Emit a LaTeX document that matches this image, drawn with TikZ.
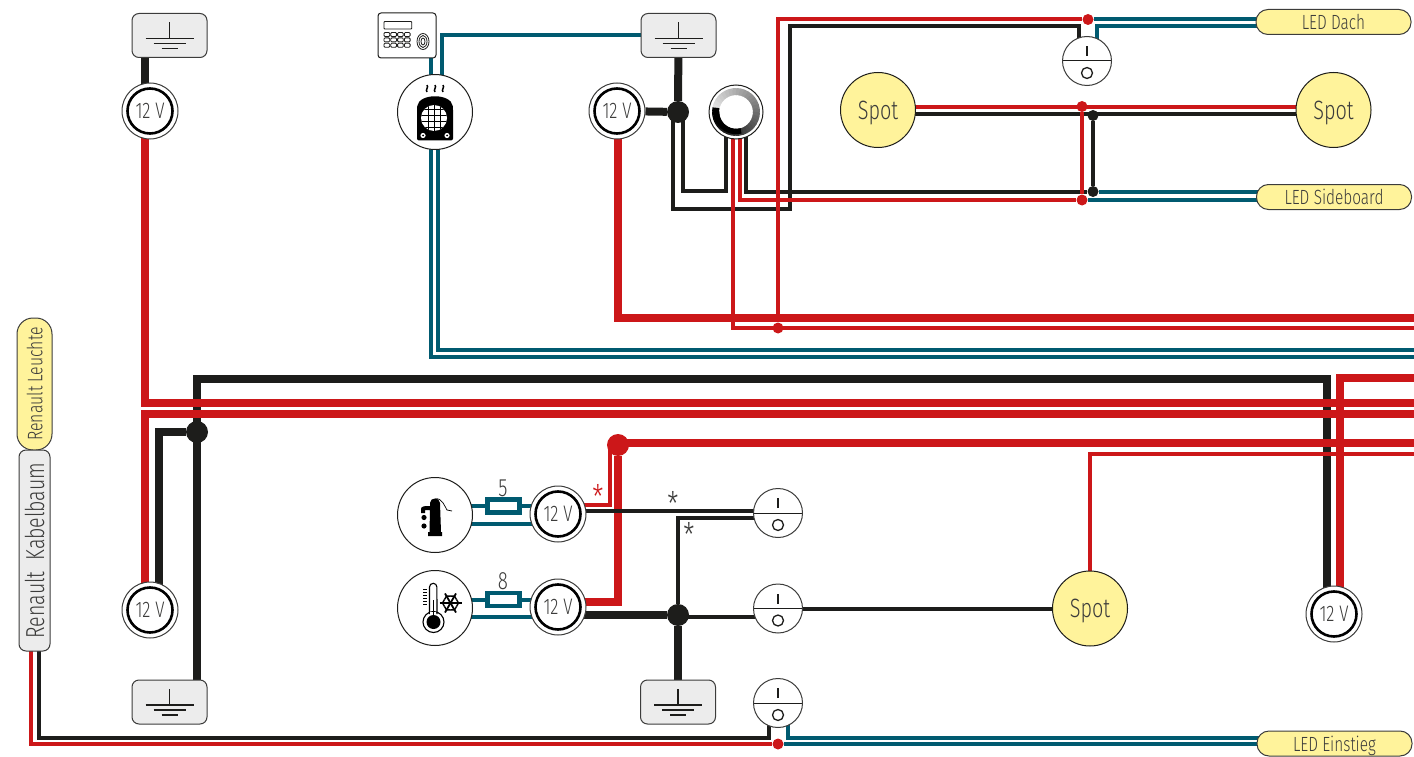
\documentclass[tikz,border=0pt]{standalone}
\usepackage{fontspec}
\setmainfont{Fira Sans}[FakeStretch=0.75,UprightFont={* Light}]
\usetikzlibrary{backgrounds}
\definecolor{wirered}{HTML}{CC1719}
\definecolor{wireblack}{HTML}{1D1D1B}
\definecolor{wireteal}{HTML}{005A70}
\definecolor{lampyellow}{HTML}{FFF39B}
\definecolor{boxgray}{HTML}{ECECEC}
\definecolor{labelgray}{HTML}{3C3C3B}
\newcommand{\sized}[1]{\fontsize{#1}{#1}\selectfont}
\tikzset{
  redthick/.style={wirered,line width=8pt},
  redthin/.style={wirered,line width=4pt},
  blackthick/.style={wireblack,line width=8pt},
  blackthin/.style={wireblack,line width=4pt},
  tealthin/.style={wireteal,line width=4pt},
  gndbox/.style={draw=labelgray,line width=1pt,fill=boxgray,rounded corners=7pt,minimum width=75pt,minimum height=44pt,
    path picture={\begin{scope}[shift={(path picture bounding box.center)},wireblack,line width=1.4pt]
      \draw (0pt,13pt) -- (0pt,-3pt);
      \draw (-24pt,-3pt) -- (24pt,-3pt);
      \draw (-16pt,-8pt) -- (16pt,-8pt);
      \draw (-8pt,-13pt) -- (8pt,-13pt);
    \end{scope}}},
  powernode/.style={circle,draw=labelgray,line width=1pt,fill=white,minimum size=56pt,inner sep=0pt,text=labelgray,font=\sized{22.5},text depth=0pt,
    path picture={\draw[black,line width=2.6pt] (path picture bounding box.center) circle (22.5pt);}},
  switchnode/.style={circle,draw=labelgray,line width=1pt,fill=white,minimum size=49pt,inner sep=0pt,
    path picture={\begin{scope}[shift={(path picture bounding box.center)},wireblack]
      \draw[line width=1pt] (-25pt,0pt) -- (25pt,0pt);
      \draw[line width=1.3pt] (0pt,5pt) -- (0pt,15pt);
      \draw[line width=1.3pt] (0pt,-12pt) circle (5.5pt);
    \end{scope}}},
  iconnode/.style={circle,draw=wireblack,line width=1pt,fill=white,minimum size=75pt,inner sep=0pt},
  spotnode/.style={circle,draw=wireblack,line width=1pt,fill=lampyellow,minimum size=75pt,inner sep=0pt,text=labelgray,font=\sized{26.5},text depth=0pt},
  pillnode/.style={draw=labelgray,line width=1pt,fill=lampyellow,rounded corners=12pt,minimum width=155pt,minimum height=25pt,inner sep=0pt,text=labelgray,font=\sized{20.5},text depth=0pt},
  fusenode/.style={draw=wireteal,line width=4.5pt,fill=white,minimum width=32pt,minimum height=13pt,inner sep=0pt},
  dotbig/.style={circle,fill=#1,minimum size=22pt,inner sep=0pt},
  dotsmall/.style={circle,fill=#1,minimum size=11pt,inner sep=0pt},
  marktext/.style={inner sep=0pt,font=\sized{#1},text=labelgray}
}
\begin{document}
\begin{tikzpicture}[x=1pt,y=-1pt]
 \useasboundingbox (0,0) rectangle (1414,757);

 % ground boxes
 \node[gndbox] (gndA) at (169.5,35.5) {};
 \node[gndbox] (gndB) at (678.5,35.5) {};
 \node[gndbox] (gndC) at (169.5,702) {};
 \node[gndbox] (gndD) at (678,702) {};

 % 12 V
 \node[powernode] (powA) at (150,111) {12 V};
 \node[powernode] (powB) at (617,111) {12 V};
 \node[powernode] (powC) at (558,514) {12 V};
 \node[powernode] (powD) at (558,607) {12 V};
 \node[powernode] (powE) at (150,610) {12 V};
 \node[powernode] (powF) at (1334,614) {12 V};

 % switches
 \node[switchnode] (swA) at (1087,61) {};
 \node[switchnode] (swB) at (778,513) {};
 \node[switchnode] (swC) at (778,608.5) {};
 \node[switchnode] (swD) at (778,703) {};

 % lamps and labels
 \node[spotnode] (spotA) at (878,110) {Spot};
 \node[spotnode] (spotB) at (1333.5,110) {Spot};
 \node[spotnode] (spotC) at (1090,608.5) {Spot};
 \node[pillnode] (pillA) at (1333.5,22) {LED Dach};
 \node[pillnode] (pillB) at (1334,197) {LED Sideboard};
 \node[pillnode] (pillC) at (1334.5,743.5) {LED Einstieg};
 \node[pillnode,rotate=90,minimum width=132pt,minimum height=35pt,rounded corners=16pt,font=\sized{21}] (leuchte) at (34.5,384) {Renault Leuchte};
 \node[pillnode,rotate=90,fill=boxgray,minimum width=201pt,minimum height=31pt,rounded corners=7pt,font=\sized{26}] (kabel) at (34.5,550.5) {Renault\ \ Kabelbaum};

 % devices
 \node[iconnode] (heat) at (435,112) {};
 \node[iconnode] (pump) at (435,515) {};
 \node[iconnode] (therm) at (435,608) {};
 \node[draw=wireblack,line width=1pt,fill=white,rounded corners=3pt,minimum width=58pt,minimum height=45pt] (keypad) at (407,35.5) {};
 \node[circle,draw=wireblack,line width=1pt,fill=white,minimum size=54pt,inner sep=0pt] (dim) at (736,112) {};

 % fuses
 \node[fusenode] (fuseA) at (503.5,506) {};
 \node[fusenode] (fuseB) at (503.5,599.5) {};
 \node[marktext=25] (numA) at (503,488) {5};
 \node[marktext=25] (numB) at (503,581) {8};

 % junctions
 \node[dotbig=wireblack] (joinA) at (197,432) {};
 \node[dotbig=wireblack] (joinB) at (678,112) {};
 \node[dotbig=wireblack] (joinC) at (678,615) {};
 \node[dotbig=wirered] (joinD) at (618,445) {};
 \node[dotsmall=wirered] (tapA) at (778,328) {};
 \node[dotsmall=wirered] (tapB) at (1088,19.5) {};
 \node[dotsmall=wirered] (tapC) at (1082,106.5) {};
 \node[dotsmall=wireblack] (tapD) at (1093,115.5) {};
 \node[dotsmall=wirered] (tapE) at (1082,200) {};
 \node[dotsmall=wireblack] (tapF) at (1093,191.5) {};
 \node[dotsmall=wirered] (tapG) at (778,744) {};

 % stars
 \node[marktext=34,text=wirered] (starA) at (598,497) {*};
 \node[marktext=34] (starB) at (673,503.5) {*};
 \node[marktext=34] (starC) at (689,534.5) {*};

 % free ends on the right, corners
 \coordinate (endA) at (1414,317.5);
 \coordinate (endB) at (1414,328);
 \coordinate (endC) at (1414,402.5);
 \coordinate (endD) at (1414,414);
 \coordinate (endE) at (1414,443);
 \coordinate (endF) at (1414,378);
 \coordinate (endG) at (1414,350);
 \coordinate (endH) at (1414,357);
 \coordinate (endI) at (1414,454);
 \coordinate (cornerA) at (197,379);
 \coordinate (cornerB) at (790,209);
 \coordinate (cornerC) at (790,26.5);
 \coordinate (cornerD) at (726,191);
 \coordinate (cornerE) at (39,738);

 \begin{scope}[on background layer]
  % black
  \draw[blackthick] ([xshift=-24.5pt]gndA.center) -- ([xshift=-5pt]powA.center);
  \draw[blackthick] ([xshift=9pt]powE.center) |- (joinA);
  \draw[blackthick] ([xshift=27.5pt]gndC.center) -- (cornerA) -| ([xshift=-7pt]powF.center);
  \draw[blackthick] (powB) -- (joinB);
  \draw[blackthick] (gndB) -- (joinB);
  \draw[blackthick] (gndD) -- (joinC);
  \draw[blackthick] ([yshift=-8pt]powD.center) -- (joinC);
  \draw[blackthin] ([xshift=-5pt]joinB.center) |- (cornerB) -- (cornerC) -| ([xshift=-8pt]swA.center);
  \draw[blackthin] ([xshift=5pt]joinB.center) |- (cornerD) -- ([xshift=-10pt]dim.center);
  \draw[blackthin] ([xshift=10pt]dim.center) |- (tapF);
  \draw[blackthin] ([yshift=-4pt]spotA.center) -- ([yshift=-4pt]spotB.center);
  \draw[blackthin] (tapD) -- (tapF);
  \draw[blackthin] (joinC) |- ([yshift=-5pt]swB.center);
  \draw[blackthin] ([yshift=-1.7pt]joinC.center) -- ([yshift=-8.2pt]swC.center);
  \draw[blackthin] (swC) -- (spotC);
  \draw[blackthin] ([xshift=-9pt]swD.center) |- (cornerE) -- ([xshift=4.5pt]kabel.center);
  % teal
  \draw[tealthin] ([xshift=-4.5pt]heat.center) -- ([xshift=23.5pt]keypad.center);
  \draw[tealthin] ([xshift=6.5pt]heat.center) |- (gndB);
  \draw[tealthin] ([xshift=-4pt]heat.center) |- (endH);
  \draw[tealthin] ([xshift=3pt]heat.center) |- (endG);
  \draw[tealthin] (tapB) -- (tapB -| pillA.center);
  \draw[tealthin] ([xshift=10pt]swA.center) |- ([yshift=-4pt]pillA.center);
  \draw[tealthin] (tapE) -- (tapE -| pillB.center);
  \draw[tealthin] (tapF) -- (tapF -| pillB.center);
  \draw[tealthin] (tapG) -- (tapG -| pillC.center);
  \draw[tealthin] ([xshift=10pt]swD.center) |- ([yshift=5.5pt]pillC.center);
  \draw[tealthin] ([yshift=9pt]pump.center) -- (fuseA.center) -- ([yshift=8pt]powC.center);
  \draw[tealthin] ([yshift=-9pt]pump.center) -- ([yshift=-10pt]powC.center);
  \draw[tealthin] ([yshift=8.5pt]therm.center) -- (fuseB.center) -- ([yshift=7.5pt]powD.center);
  \draw[tealthin] ([yshift=-9pt]therm.center) -- ([yshift=-10pt]powD.center);
  % red
  \draw[redthick] ([xshift=-5pt]powA.center) |- (endC);
  \draw[redthick] ([xshift=-5pt]powE.center) |- (endD);
  \draw[redthick] ([xshift=1pt]powB.center) |- (endA);
  \draw[redthick] ([xshift=6pt]powF.center) |- (endF);
  \draw[redthick] ([yshift=2pt]joinD.center) -- (endE);
  \draw[redthick] ([yshift=5pt]powD.center) -| (joinD);
  \draw[redthin] ([yshift=9pt]powC.center) -| ([xshift=-8pt]joinD.center);
  \draw[redthin] ([xshift=-3pt]dim.center) |- (endB);
  \draw[redthin] ([xshift=4pt]dim.center) |- (tapE);
  \draw[redthin] (tapA) |- (tapB);
  \draw[redthin] (tapC) -- (tapE);
  \draw[redthin] ([yshift=3pt]spotA.center) -- ([yshift=3pt]spotB.center);
  \draw[redthin] (spotC) |- (endI);
  \draw[redthin] ([xshift=-3.5pt]kabel.center) |- (tapG);
  % black over red
  \draw[blackthin] ([yshift=3.5pt]powC.center) -- ([yshift=2.5pt]swB.center);
 \end{scope}

 % dimmer ring
 \begin{scope}[shift={(dim.center)},y=1pt]
  \foreach \a in {0,...,35}
   {\pgfmathsetmacro{\shade}{min(100,12+\a*2.7)}
    \draw[black!\shade!white,line width=7pt] ({170-10*\a}:20.5pt) arc[start angle=170-10*\a,end angle=158-10*\a,radius=20.5pt];}
  \draw[black,line width=5.5pt] (180:19.5pt) arc[start angle=180,end angle=285,radius=19.5pt];
 \end{scope}

 % keypad icon
 \begin{scope}[shift={(keypad.center)},wireblack,line width=0.8pt]
  \draw[rounded corners=0.7pt] (-23,-14) rectangle (4.7,-6.5);
  \foreach \i in {0,...,3}
   \foreach \j in {0,...,2}
    \draw[rounded corners=1pt] (-23+6.8*\i,-3+5.4*\j) rectangle (-17.3+6.8*\i,1+5.4*\j);
  \draw (16,6) ellipse (6pt and 8pt);
  \draw (16,6) ellipse (4pt and 6pt);
  \draw (16,6) ellipse (2pt and 3.5pt);
 \end{scope}

 % heater icon
 \begin{scope}[shift={(heat.center)}]
  \fill[black,rounded corners=2pt] (-18,28.5) -- (-18,-4) .. controls (-16,-19) and (16,-19) .. (18,-4) -- (18,28.5) -- cycle;
  \fill[white] (-1,6) circle (13pt);
  \begin{scope}
   \clip (-1,6) circle (13pt);
   \foreach \y in {-3,3,9,15}
    \draw[black,line width=0.8pt] (-15,\y) -- (13,\y);
   \foreach \x in {-7,-1,5}
    \draw[black,line width=0.8pt] (\x,-8) -- (\x,20);
  \end{scope}
  \foreach \x in {-12,12}
   {\fill[white] (\x,23.5) circle (2.6pt);
    \fill[black] (\x,23.5) circle (1pt);}
  \foreach \x in {-8,0,8}
   \draw[black,line width=1.5pt] (\x,-20) .. controls (\x-2,-22) and (\x+2,-25) .. (\x,-27);
 \end{scope}

 % pump icon
 \begin{scope}[shift={(pump.center)}]
  \fill[black] (-5.5,17) -- (-5,-5) -- (-10,-5) -- (-10,-2) -- (-14,-2) -- (-14,-6) .. controls (-14,-9) and (-10,-9) .. (-5,-9) -- (-5,-12) .. controls (-5,-18) and (5,-18) .. (5,-12) -- (6,17) -- (7,17) -- (7,21) -- (-7,21) -- (-7,17) -- cycle;
  \fill[black] (-11,2.5) circle (2.6pt);
  \fill[black] (-11,11) circle (2.6pt);
  \draw[black,line width=0.7pt] (0,-16) .. controls (7,-18) and (10,-8) .. (12,-5) -- (17,-4);
 \end{scope}

 % thermometer icon
 \begin{scope}[shift={(therm.center)}]
  \draw[black,line width=1.1pt,fill=white] (-5.5,6) -- (-5.5,-21) arc[start angle=180,end angle=0,radius=3.7pt] -- (2,6);
  \draw[black,line width=1.1pt] (-1.5,14) circle (10.5pt);
  \fill[white] (-4.9,4) rectangle (1.4,8);
  \fill[black] (-1.5,14) circle (7pt);
  \draw[black,line width=1.5pt] (-1.5,-8) -- (-1.5,10);
  \foreach \y in {-19,-16,...,-4}
   \draw[black,line width=1pt] (-12,\y) -- (-8,\y);
  \foreach \a in {0,60,120}
   {\draw[black,line width=1.8pt,shift={(15.5,-5)},rotate=\a] (-11,0) -- (11,0);
    \draw[black,line width=1.4pt,shift={(15.5,-5)},rotate=\a] (6,-3.5) -- (8,0) -- (6,3.5) (-6,-3.5) -- (-8,0) -- (-6,3.5);}
 \end{scope}

\end{tikzpicture}
\end{document}
